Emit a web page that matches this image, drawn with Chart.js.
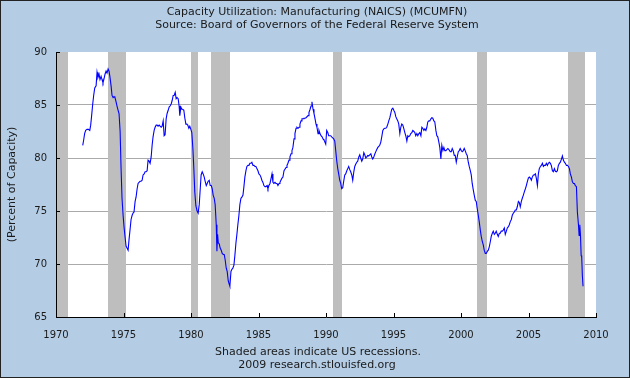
<!DOCTYPE html>
<html>
<head>
<meta charset="utf-8">
<script src="https://cdn.jsdelivr.net/npm/chart.js@4.4.1/dist/chart.umd.min.js"></script>
<style>
  html, body { margin: 0; padding: 0; background: #b4cde5; }
  #wrap { width: 630px; height: 378px; }
</style>
</head>
<body>
<div id="wrap"><canvas id="chart" width="630" height="378"></canvas></div>
<script>
// Capacity Utilization: Manufacturing (MCUMFN)
const years = [
  1971.98, 1972.05, 1972.12, 1972.20, 1972.30, 1972.40, 1972.50, 1972.57, 1972.64, 1972.72, 1972.79, 1972.87, 1972.97,
  1973.04, 1973.11, 1973.19, 1973.26, 1973.34, 1973.41, 1973.48, 1973.56, 1973.63, 1973.71, 1973.78, 1973.86, 1973.93,
  1974.00, 1974.08, 1974.15, 1974.23, 1974.30, 1974.37, 1974.45, 1974.52, 1974.60, 1974.67, 1974.75, 1974.82, 1974.89, 1974.97,
  1975.04, 1975.12, 1975.19, 1975.26, 1975.34, 1975.41, 1975.49, 1975.56, 1975.64, 1975.71, 1975.78, 1975.86, 1975.93,
  1976.01, 1976.08, 1976.15, 1976.23, 1976.30, 1976.38, 1976.45, 1976.53, 1976.60, 1976.67, 1976.75, 1976.82, 1976.90, 1976.97,
  1977.05, 1977.12, 1977.19, 1977.27, 1977.34, 1977.42, 1977.49, 1977.56, 1977.64, 1977.71, 1977.79, 1977.86, 1977.94,
  1978.01, 1978.08, 1978.16, 1978.23, 1978.31, 1978.38, 1978.45, 1978.53, 1978.60, 1978.68, 1978.75, 1978.83, 1978.90, 1978.97,
  1979.05, 1979.12, 1979.17, 1979.25, 1979.32, 1979.39, 1979.47, 1979.54, 1979.62, 1979.69, 1979.76, 1979.84, 1979.91, 1979.99,
  1980.06, 1980.14, 1980.21, 1980.28, 1980.36, 1980.45, 1980.53, 1980.61, 1980.68, 1980.75, 1980.83, 1980.90, 1980.98,
  1981.05, 1981.13, 1981.20, 1981.27, 1981.35, 1981.42, 1981.50, 1981.57, 1981.64, 1981.72, 1981.79, 1981.87, 1981.92, 1981.97,
  1982.02, 1982.09, 1982.16, 1982.24, 1982.31, 1982.39, 1982.46, 1982.53, 1982.61, 1982.68, 1982.76, 1982.83, 1982.88, 1982.96,
  1983.03, 1983.10, 1983.18, 1983.25, 1983.33, 1983.40, 1983.47, 1983.55, 1983.62, 1983.70, 1983.77, 1983.85, 1983.92, 1983.99,
  1984.07, 1984.14, 1984.22, 1984.29, 1984.36, 1984.44, 1984.51, 1984.59, 1984.66, 1984.74, 1984.81, 1984.88, 1984.96,
  1985.03, 1985.11, 1985.18, 1985.25, 1985.33, 1985.40, 1985.48, 1985.55, 1985.63, 1985.70, 1985.77, 1985.85, 1985.92,
  1986.00, 1986.07, 1986.14, 1986.22, 1986.29, 1986.37, 1986.44, 1986.52, 1986.59, 1986.66, 1986.74, 1986.81, 1986.89, 1986.96,
  1987.04, 1987.11, 1987.18, 1987.26, 1987.33, 1987.41, 1987.48, 1987.55, 1987.63, 1987.70, 1987.78, 1987.85, 1987.93,
  1988.00, 1988.07, 1988.15, 1988.22, 1988.30, 1988.37, 1988.44, 1988.52, 1988.59, 1988.67, 1988.74, 1988.82, 1988.89, 1988.96,
  1989.04, 1989.11, 1989.19, 1989.26, 1989.33, 1989.41, 1989.48, 1989.56, 1989.63, 1989.71, 1989.78, 1989.85, 1989.98,
  1990.05, 1990.13, 1990.20, 1990.27, 1990.35, 1990.42, 1990.50, 1990.57, 1990.65, 1990.72, 1990.79, 1990.87, 1990.94,
  1991.02, 1991.09, 1991.16, 1991.24, 1991.31, 1991.39, 1991.46, 1991.54, 1991.61, 1991.68, 1991.76, 1991.83, 1991.91, 1991.98,
  1992.06, 1992.13, 1992.20, 1992.28, 1992.35, 1992.43, 1992.50, 1992.57, 1992.65, 1992.72, 1992.80, 1992.87, 1992.95,
  1993.02, 1993.09, 1993.17, 1993.24, 1993.32, 1993.39, 1993.46, 1993.54, 1993.61, 1993.69, 1993.76, 1993.84, 1993.91, 1993.98,
  1994.06, 1994.13, 1994.21, 1994.28, 1994.35, 1994.43, 1994.50, 1994.58, 1994.65, 1994.73, 1994.80, 1994.87, 1994.95,
  1995.02, 1995.10, 1995.17, 1995.24, 1995.32, 1995.39, 1995.47, 1995.54, 1995.61, 1995.69, 1995.76, 1995.84, 1995.91, 1995.99,
  1996.06, 1996.13, 1996.21, 1996.28, 1996.36, 1996.43, 1996.51, 1996.58, 1996.65, 1996.73, 1996.80, 1996.88, 1996.95,
  1997.03, 1997.10, 1997.17, 1997.25, 1997.32, 1997.40, 1997.47, 1997.54, 1997.62, 1997.69, 1997.77, 1997.84, 1997.91, 1997.99,
  1998.06, 1998.14, 1998.21, 1998.28, 1998.36, 1998.43, 1998.51, 1998.58, 1998.66, 1998.73, 1998.80, 1998.88, 1998.95,
  1999.03, 1999.10, 1999.20, 1999.28, 1999.35, 1999.42, 1999.50, 1999.57, 1999.65, 1999.72, 1999.80, 1999.87, 1999.94,
  2000.02, 2000.09, 2000.17, 2000.24, 2000.31, 2000.39, 2000.46, 2000.54, 2000.61, 2000.69, 2000.76, 2000.83, 2000.91, 2000.98,
  2001.06, 2001.13, 2001.20, 2001.28, 2001.35, 2001.43, 2001.50, 2001.58, 2001.65, 2001.72, 2001.80, 2001.87, 2001.95,
  2002.02, 2002.09, 2002.17, 2002.24, 2002.32, 2002.39, 2002.47, 2002.54, 2002.61, 2002.69, 2002.76, 2002.84, 2002.91, 2002.98,
  2003.06, 2003.13, 2003.21, 2003.28, 2003.36, 2003.43, 2003.50, 2003.58, 2003.65, 2003.73, 2003.80, 2003.88, 2003.95,
  2004.02, 2004.10, 2004.17, 2004.25, 2004.32, 2004.39, 2004.47, 2004.54, 2004.62, 2004.69, 2004.77, 2004.84, 2004.91, 2004.99,
  2005.06, 2005.14, 2005.21, 2005.28, 2005.36, 2005.43, 2005.51, 2005.58, 2005.66, 2005.73, 2005.80, 2005.88, 2005.95,
  2006.03, 2006.10, 2006.17, 2006.25, 2006.32, 2006.40, 2006.47, 2006.55, 2006.62, 2006.69, 2006.77, 2006.84, 2006.92, 2006.99,
  2007.07, 2007.14, 2007.21, 2007.29, 2007.36, 2007.44, 2007.51, 2007.58, 2007.66, 2007.73, 2007.81, 2007.88, 2007.96,
  2008.03, 2008.10, 2008.18, 2008.25, 2008.33, 2008.40, 2008.47, 2008.55, 2008.62, 2008.70, 2008.75, 2008.80, 2008.85, 2008.90, 2008.94, 2008.99,
  2009.04
];
const values = [
  81.2, 81.7, 82.3, 82.6, 82.7, 82.7, 82.6, 83.1, 84.0, 85.1, 85.9, 86.6, 86.8,
  88.1, 87.6, 87.9, 87.4, 87.7, 87.4, 87.1, 87.5, 87.9, 88.2, 88.0, 88.4, 88.2,
  87.6, 86.8, 85.9, 85.7, 85.8, 85.7, 85.3, 84.9, 84.5, 84.2, 82.5, 79.0, 76.2, 74.6,
  73.5, 72.5, 71.7, 71.5, 71.3, 72.3, 73.3, 74.2, 74.6, 74.8, 74.9, 75.9, 76.3,
  77.1, 77.6, 77.7, 77.8, 77.8, 77.9, 78.4, 78.5, 78.7, 78.7, 78.8, 79.8, 79.7, 79.5,
  80.1, 81.2, 82.0, 82.6, 82.9, 83.1, 83.1, 83.0, 83.1, 83.0, 82.9, 83.0, 83.5,
  82.1, 82.2, 83.7, 84.2, 84.5, 84.8, 84.9, 85.1, 85.4, 85.9, 85.9, 86.2, 85.6, 85.7,
  85.6, 84.9, 84.0, 84.8, 84.6, 84.6, 84.5, 83.8, 83.2, 83.2, 83.1, 82.8, 83.0, 82.7,
  82.4, 80.9, 79.0, 76.8, 75.5, 75.0, 74.8, 75.6, 77.0, 78.4, 78.7, 78.5, 78.2,
  77.8, 77.4, 77.6, 77.8, 77.9, 77.4, 77.4, 77.1, 76.5, 76.2, 75.6, 73.7, 71.2, 72.8,
  72.0, 71.9, 71.5, 71.3, 71.0, 70.9, 70.9, 70.4, 69.6, 69.3, 68.4, 68.1, 67.9, 69.3,
  69.5, 69.6, 69.9, 70.8, 72.0, 72.8, 73.7, 74.6, 75.6, 76.2, 76.3, 76.5, 77.3, 78.2,
  78.8, 79.2, 79.3, 79.3, 79.5, 79.5, 79.6, 79.3, 79.3, 79.2, 79.2, 79.0, 78.8,
  78.5, 78.4, 78.2, 77.9, 77.7, 77.4, 77.3, 77.3, 77.4, 77.1, 77.4, 77.6, 78.0,
  78.5, 77.7, 77.6, 77.7, 77.6, 77.6, 77.4, 77.6, 77.7, 77.9, 78.1, 78.2, 78.8, 78.8,
  79.1, 79.3, 79.5, 79.8, 80.1, 80.4, 80.7, 81.0, 81.8, 82.3, 82.8, 82.9, 82.8,
  82.9, 83.2, 83.5, 83.7, 83.7, 83.75, 83.75, 83.8, 83.8, 84.0, 84.3, 84.6, 84.9, 85.3,
  84.6, 84.2, 83.7, 83.2, 82.9, 82.3, 82.6, 82.3, 82.1, 82.0, 81.8, 81.7, 81.3,
  82.6, 82.4, 82.1, 82.1, 82.1, 82.0, 81.9, 81.8, 81.6, 80.7, 79.8, 79.0, 78.5,
  77.9, 77.6, 77.1, 77.2, 77.8, 78.4, 78.5, 78.8, 79.0, 79.2, 78.9, 78.7, 78.4, 77.9,
  78.7, 79.2, 79.4, 79.6, 79.7, 80.1, 80.3, 80.0, 79.7, 79.9, 80.5, 80.3, 80.0,
  80.1, 80.25, 80.2, 80.3, 80.4, 80.1, 79.9, 80.1, 80.35, 80.6, 80.8, 81.0, 81.1, 81.2,
  81.5, 82.0, 82.6, 82.75, 82.8, 82.8, 82.9, 83.2, 83.5, 83.8, 84.2, 84.6, 84.7,
  84.5, 84.3, 83.9, 83.7, 83.5, 83.2, 82.3, 82.9, 83.2, 83.1, 82.8, 82.4, 82.1, 81.6,
  82.1, 82.0, 82.1, 82.3, 82.4, 82.6, 82.5, 82.4, 82.1, 82.3, 82.1, 82.3, 82.4,
  82.1, 82.9, 82.8, 82.6, 82.75, 82.6, 82.9, 83.4, 83.5, 83.5, 83.7, 83.8, 83.75, 83.5,
  83.4, 82.6, 82.1, 82.0, 81.5, 81.0, 79.9, 81.2, 80.7, 81.0, 80.7, 80.7, 80.8,
  80.9, 80.8, 80.6, 80.6, 80.9, 80.7, 80.25, 80.25, 79.6, 80.1, 80.6, 80.7, 80.9,
  80.7, 80.6, 80.7, 80.9, 80.7, 80.4, 80.25, 79.6, 79.2, 78.8, 78.4, 77.6, 77.0, 76.5,
  76.0, 75.9, 75.25, 74.6, 74.0, 73.2, 72.6, 72.1, 71.8, 71.3, 71.0, 71.0, 71.2,
  71.3, 71.6, 72.1, 72.6, 72.9, 73.1, 72.8, 72.9, 73.1, 72.8, 72.6, 72.9, 72.9, 73.1,
  73.1, 73.2, 73.4, 72.8, 73.1, 73.4, 73.5, 73.7, 74.0, 74.2, 74.6, 74.8, 74.9,
  75.1, 75.1, 75.4, 75.9, 75.8, 75.4, 75.9, 76.2, 76.5, 76.8, 77.1, 77.4, 77.75, 78.1,
  78.2, 78.1, 77.9, 78.2, 78.4, 78.4, 78.5, 78.1, 77.4, 78.5, 79.0, 79.2, 79.3,
  79.5, 79.2, 79.3, 79.3, 79.5, 79.3, 79.5, 79.6, 79.5, 79.3, 78.8, 78.7, 79.0, 78.75,
  78.7, 78.8, 79.3, 79.5, 79.6, 79.9, 80.2, 79.8, 79.6, 79.5, 79.3, 79.3, 79.2,
  79.0, 78.5, 78.2, 77.75, 77.6, 77.6, 77.4, 77.3, 74.9, 73.7, 72.7, 73.7, 72.7, 70.8, 70.7, 68.9,
  67.9
];

// NBER recessions (start, end) as decimal years
const recessionStart = [1969.92, 1973.83, 1980.0, 1981.5, 1990.5, 2001.17, 2007.92];
const recessionEnd   = [1970.87, 1975.2, 1980.55, 1982.88, 1991.2, 2001.9, 2009.17];

const xTicks = [1970, 1975, 1980, 1985, 1990, 1995, 2000, 2005, 2010];
const yTicks = [65, 70, 75, 80, 85, 90];

const titleLines = [
  "Capacity Utilization: Manufacturing (NAICS) (MCUMFN)",
  "Source: Board of Governors of the Federal Reserve System"
];
const footLines = [
  "Shaded areas indicate US recessions.",
  "2009 research.stlouisfed.org"
];
const yTitle = "(Percent of Capacity)";

const FONT = "11px 'DejaVu Sans', Verdana, sans-serif";
const TEXT = "#1a1a1a";
const BG = "#b4cde5";

const fredFrame = {
  id: "fredFrame",
  beforeDraw(chart) {
    const { ctx, chartArea: a } = chart;
    ctx.save();
    ctx.fillStyle = BG;
    ctx.fillRect(0, 0, chart.width, chart.height);
    ctx.fillStyle = "#ffffff";
    ctx.fillRect(a.left, a.top, a.right - a.left, a.bottom - a.top);
    ctx.restore();
  },
  beforeDatasetsDraw(chart) {
    const { ctx, chartArea: a, scales: { x } } = chart;
    ctx.save();
    ctx.fillStyle = "#bebebe";
    recessionStart.forEach((s, i) => {
      const x0 = Math.max(Math.round(x.getPixelForValue(s)), a.left + 1);
      const x1 = Math.min(Math.round(x.getPixelForValue(recessionEnd[i])), a.right);
      ctx.fillRect(x0, a.top, x1 - x0, a.bottom - a.top);
    });
    ctx.restore();
  },
  afterDraw(chart) {
    const { ctx, chartArea: a, scales: { x, y } } = chart;
    ctx.save();
    // inside tick marks
    ctx.strokeStyle = "#000";
    ctx.lineWidth = 1;
    ctx.beginPath();
    xTicks.forEach(t => {
      const px = Math.round(x.getPixelForValue(t)) + 0.5;
      ctx.moveTo(px, a.bottom);
      ctx.lineTo(px, a.bottom - 4);
    });
    yTicks.forEach(t => {
      const py = Math.round(y.getPixelForValue(t)) + 0.5;
      ctx.moveTo(a.left, py);
      ctx.lineTo(a.left + 4, py);
    });
    ctx.stroke();

    // texts
    ctx.fillStyle = TEXT;
    ctx.font = FONT;
    ctx.textAlign = "center";
    ctx.textBaseline = "middle";
    ctx.fillText(titleLines[0], 317, 12);
    ctx.fillText(titleLines[1], 317, 25);
    ctx.fillText(footLines[0], 318, 352);
    ctx.fillText(footLines[1], 317, 365);
    ctx.save();
    ctx.translate(12.5, (a.top + a.bottom) / 2);
    ctx.rotate(-Math.PI / 2);
    ctx.fillText(yTitle, 0, 0);
    ctx.restore();

    // outer frame
    ctx.strokeStyle = "#222";
    ctx.strokeRect(0.5, 0.5, chart.width - 1, chart.height - 1);
    ctx.restore();
  }
};

new Chart(document.getElementById("chart"), {
  type: "line",
  data: {
    datasets: [{
      label: "MCUMFN",
      data: years.map((yr, i) => ({ x: yr, y: values[i] })),
      borderColor: "#0000ff",
      borderWidth: 1.1,
      pointRadius: 0,
      tension: 0,
      fill: false
    }]
  },
  options: {
    responsive: false,
    animation: false,
    events: [],
    layout: { padding: { left: 6, top: 52, right: 34, bottom: 31 } },
    plugins: { legend: { display: false }, tooltip: { enabled: false }, title: { display: false } },
    scales: {
      x: {
        type: "linear", min: 1970, max: 2010,
        afterBuildTicks: s => { s.ticks = xTicks.map(v => ({ value: v })); },
        afterFit: s => { s.height = 30; },
        grid: { display: false, drawTicks: false },
        border: { display: true, color: "#000", width: 1 },
        ticks: { padding: 12, color: TEXT, font: { family: "'DejaVu Sans'", size: 10 }, maxRotation: 0, callback: v => String(v) }
      },
      y: {
        min: 65, max: 90,
        afterBuildTicks: s => { s.ticks = yTicks.map(v => ({ value: v })); },
        afterFit: s => { s.width = 50; },
        grid: {
          drawTicks: false,
          color: c => (c.tick && c.tick.value > 65 && c.tick.value < 90) ? "#aaaaaa" : "rgba(0,0,0,0)"
        },
        border: { display: true, color: "#000", width: 1 },
        ticks: { padding: 9, color: TEXT, font: { family: "'DejaVu Sans'", size: 10 }, callback: v => String(v) }
      }
    }
  },
  plugins: [fredFrame]
});
</script>
</body>
</html>
